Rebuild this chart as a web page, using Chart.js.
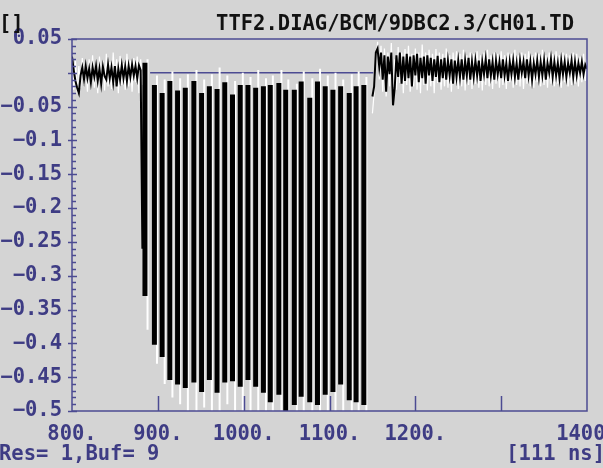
<!DOCTYPE html>
<html>
<head>
<meta charset="utf-8">
<title>TTF2.DIAG/BCM/9DBC2.3/CH01.TD</title>
<script src="https://cdn.jsdelivr.net/npm/chart.js@4.4.1/dist/chart.umd.min.js"></script>
<style>
  html, body { margin: 0; padding: 0; background: #d4d4d4; }
  canvas { display: block; }
</style>
</head>
<body>
<canvas id="bcm" width="603" height="468"></canvas>
<script>
// baseline traces are sampled every 2 ns
const sampleStep = 2;

// before the bunch train (800 .. 884 ns)
const preStart = 800;
const blackPre = [
    0.024, 0.004, -0.012, -0.022, -0.030, -0.004, 0.008, -0.010, 0.010, -0.008,
    0.006, -0.014, 0.008, -0.006, 0.010, -0.012, 0.006, -0.016, 0.009, -0.005,
    -0.010, 0.012, -0.008, 0.008, -0.014, 0.010, -0.020, 0.006, -0.010, 0.011,
    -0.008, 0.009, -0.012, 0.010, -0.006, 0.012, -0.004, 0.010, -0.008, 0.011,
    0.004, -0.260, 0.014
];
const whitePre = [
    0.012, -0.025, 0.018, -0.030, 0.010, -0.022, 0.022, -0.018, 0.015, -0.028,
    0.020, -0.015, 0.026, -0.022, 0.012, -0.030, 0.024, -0.012, 0.018, -0.026,
    0.028, -0.020, 0.016, -0.024, 0.030, -0.016, 0.020, -0.030, 0.025, -0.018,
    0.014, -0.025, 0.028, -0.020, 0.018, -0.028, 0.022, -0.014, 0.024, -0.030,
    0.020, -0.018, 0.010
];

// after the bunch train (1150 .. 1400 ns)
const postStart = 1150;
const blackPost = [
    -0.035, -0.020, 0.030, 0.036, 0.008, 0.030, -0.010, 0.026, -0.028, 0.024,
    -0.002, 0.030, -0.048, -0.022, 0.026, -0.006, 0.030, -0.016, 0.024, -0.012,
    0.028, -0.008, 0.024, -0.020, 0.026, -0.004, 0.028, -0.014, 0.022, -0.008,
    0.024, -0.016, 0.026, -0.004, 0.022, -0.012, 0.020, -0.006, 0.025, -0.014,
    0.020, -0.008, 0.022, -0.010, 0.018, -0.004, 0.020, -0.016, 0.018, -0.006,
    0.018, -0.006, 0.020, -0.010, 0.018, -0.004, 0.022, -0.010, 0.016, -0.006,
    0.018, -0.004, 0.018, -0.012, 0.016, -0.002, 0.020, -0.008, 0.020, -0.004,
    0.016, -0.010, 0.018, -0.002, 0.016, -0.008, 0.020, -0.004, 0.014, -0.012,
    0.016, -0.002, 0.018, -0.006, 0.014, -0.010, 0.018, 0.000, 0.016, -0.008,
    0.020, -0.004, 0.016, -0.010, 0.014, -0.002, 0.018, -0.006, 0.016, -0.004,
    0.018, -0.010, 0.014, 0.000, 0.020, -0.006, 0.016, -0.004, 0.014, -0.008,
    0.018, -0.002, 0.016, -0.006, 0.014, 0.000, 0.018, -0.006, 0.016, -0.004,
    0.014, 0.000, 0.016, -0.002, 0.012, 0.006
];
const whitePost = [
    -0.060, -0.030, 0.010, 0.046, -0.010, 0.040, -0.028, 0.036, -0.035, 0.030,
    -0.020, 0.044, -0.040, 0.020, -0.025, 0.038, -0.015, 0.030, -0.030, 0.035,
    -0.018, 0.040, -0.028, 0.028, -0.020, 0.036, -0.025, 0.030, -0.030, 0.042,
    -0.018, 0.030, -0.026, 0.034, -0.020, 0.028, -0.030, 0.035, -0.015, 0.030,
    -0.025, 0.028, -0.020, 0.036, -0.022, 0.026, -0.028, 0.030, -0.016, 0.032,
    -0.024, 0.028, -0.020, 0.034, -0.026, 0.026, -0.018, 0.030, -0.024, 0.028,
    -0.016, 0.032, -0.022, 0.026, -0.026, 0.030, -0.018, 0.034, -0.020, 0.026,
    -0.024, 0.030, -0.016, 0.028, -0.022, 0.032, -0.018, 0.026, -0.024, 0.030,
    -0.014, 0.028, -0.022, 0.034, -0.018, 0.026, -0.020, 0.030, -0.024, 0.028,
    -0.016, 0.032, -0.020, 0.026, -0.022, 0.030, -0.014, 0.028, -0.020, 0.034,
    -0.018, 0.026, -0.022, 0.030, -0.016, 0.028, -0.020, 0.032, -0.016, 0.026,
    -0.022, 0.030, -0.014, 0.028, -0.020, 0.026, -0.018, 0.030, -0.016, 0.028,
    -0.020, 0.024, -0.014, 0.028, -0.012, 0.020
];

// one entry per bunch: arrival time [ns], trace top and bottom [V]
const pulseTimes = [
    885, 896, 905, 914, 923, 932, 942, 951, 960, 969,
    978, 987, 996, 1005, 1014, 1023, 1031, 1041, 1049, 1059,
    1067, 1077, 1086, 1095, 1104, 1113, 1123, 1131, 1140
];
const blackTop = [
    0.015, -0.018, -0.030, -0.012, -0.026, -0.022, -0.012, -0.030, -0.020, -0.024,
    -0.014, -0.032, -0.018, -0.018, -0.022, -0.020, -0.018, -0.015, -0.025, -0.025,
    -0.013, -0.037, -0.013, -0.020, -0.025, -0.020, -0.030, -0.020, -0.018
];
const blackBottom = [
    -0.330, -0.402, -0.420, -0.454, -0.461, -0.466, -0.458, -0.472, -0.454, -0.473,
    -0.458, -0.456, -0.464, -0.454, -0.464, -0.473, -0.487, -0.476, -0.500, -0.491,
    -0.479, -0.487, -0.491, -0.476, -0.472, -0.461, -0.484, -0.487, -0.491
];
const whitePulseTimes = [
    888, 899, 908, 917, 926, 935, 945, 954, 963, 972,
    981, 990, 999, 1008, 1017, 1026, 1034, 1044, 1052, 1062,
    1070, 1080, 1089, 1098, 1107, 1116, 1126, 1134, 1143
];
const whiteTop = [
    0.020, -0.004, -0.010, 0.002, -0.008, -0.002, 0.004, -0.010, -0.002, 0.008,
    -0.004, -0.012, 0.000, -0.006, 0.004, -0.008, -0.004, 0.004, -0.010, -0.016,
    0.002, -0.008, 0.006, -0.004, 0.000, -0.010, -0.002, 0.002, -0.006
];
const whiteBottom = [
    -0.380, -0.430, -0.460, -0.480, -0.490, -0.500, -0.500, -0.495, -0.500, -0.500,
    -0.490, -0.500, -0.500, -0.500, -0.500, -0.500, -0.500, -0.500, -0.500, -0.500,
    -0.500, -0.500, -0.500, -0.500, -0.500, -0.500, -0.500, -0.500, -0.500
];

// reference level marker
const levelTimes = [891, 1151];
const levelValues = [0.0, 0.0];

const xTickValues = [800, 900, 1000, 1100, 1200, 1300, 1400];
const xTickText = ['800.', '900.', '1000.', '1100.', '1200.', '', '1400 '];

const titleText = 'TTF2.DIAG/BCM/9DBC2.3/CH01.TD';
const unitText = '[]';
const statusText = 'Res= 1,Buf= 9';
const scaleText = '[111 ns]';

const frameColor = '#4c4b92';
const labelColor = '#3e3c84';
const fontFamily = "'DejaVu Sans Mono', monospace";

Chart.defaults.font.family = fontFamily;
Chart.defaults.font.size = 20.5;
Chart.defaults.font.weight = 'bold';

const toPoints = (start, vals) => vals.map((v, i) => ({ x: start + i * sampleStep, y: v }));

function formatY(value) {
    if (Math.abs(value) < 1e-9) return '';
    return value.toFixed(2).replace(/0$/, '').replace('-', '\u2212');
}

// frame, inward x ticks, crossing y ticks and the header/footer texts
const scopeFrame = {
    id: 'scopeFrame',
    afterDatasetsDraw(chart) {
        const { ctx, chartArea: a, scales: { x, y } } = chart;
        ctx.save();
        ctx.strokeStyle = frameColor;
        ctx.lineWidth = 1.5;
        ctx.strokeRect(a.left, a.top, a.right - a.left, a.bottom - a.top);

        ctx.beginPath();
        for (let i = 0; i <= 55; i++) {
            const py = Math.round(y.getPixelForValue(-0.5 + i * 0.01)) + 0.5;
            const major = i % 5 === 0;
            ctx.moveTo(a.left - (major ? 4 : 0), py);
            ctx.lineTo(a.left + (major ? 5 : 4), py);
        }
        x.ticks.forEach(t => {
            if (t.value <= x.min || t.value >= x.max) return;
            const px = Math.round(x.getPixelForValue(t.value)) + 0.5;
            ctx.moveTo(px, a.bottom);
            ctx.lineTo(px, a.bottom - 15);
        });
        ctx.stroke();
        ctx.restore();
    },
    afterDraw(chart) {
        const ctx = chart.ctx;
        ctx.save();
        ctx.font = 'bold 20.5px ' + fontFamily;
        ctx.textBaseline = 'alphabetic';

        ctx.fillStyle = '#111111';
        ctx.textAlign = 'left';
        ctx.fillText(unitText, -1, 30);
        ctx.textAlign = 'right';
        ctx.fillText(titleText, 574, 30);

        ctx.fillStyle = labelColor;
        ctx.textAlign = 'left';
        ctx.fillText(statusText, -1, 460);
        ctx.textAlign = 'right';
        ctx.fillText(scaleText, 605, 460);
        ctx.restore();
    }
};

const ctx = document.getElementById('bcm').getContext('2d');

new Chart(ctx, {
    type: 'line',
    data: {
        datasets: [
            {
                label: 'level',
                data: levelTimes.map((t, i) => ({ x: t, y: levelValues[i] })),
                borderColor: frameColor,
                borderWidth: 1.5,
                pointRadius: 0,
                order: 3
            },
            {
                type: 'bar',
                label: 'white pulses',
                data: whitePulseTimes.map((t, i) => ({ x: t, y: [whiteBottom[i], whiteTop[i]] })),
                backgroundColor: '#ffffff',
                borderWidth: 0,
                inflateAmount: 0,
                barThickness: 2,
                maxBarThickness: 2,
                grouped: false,
                order: 2
            },
            {
                label: 'white pre',
                data: toPoints(preStart, whitePre),
                borderColor: '#ffffff',
                borderWidth: 1.2,
                pointRadius: 0,
                order: 2
            },
            {
                label: 'white post',
                data: toPoints(postStart, whitePost),
                borderColor: '#ffffff',
                borderWidth: 1.2,
                pointRadius: 0,
                order: 2
            },
            {
                type: 'bar',
                label: 'black pulses',
                data: pulseTimes.map((t, i) => ({ x: t, y: [blackBottom[i], blackTop[i]] })),
                backgroundColor: '#000000',
                borderWidth: 0,
                inflateAmount: 0,
                barThickness: 5,
                maxBarThickness: 5,
                grouped: false,
                order: 0
            },
            {
                label: 'black pre',
                data: toPoints(preStart, blackPre),
                borderColor: '#000000',
                borderWidth: 2,
                pointRadius: 0,
                order: 0
            },
            {
                label: 'black post',
                data: toPoints(postStart, blackPost),
                borderColor: '#000000',
                borderWidth: 2,
                pointRadius: 0,
                order: 0
            }
        ]
    },
    options: {
        responsive: false,
        animation: false,
        devicePixelRatio: 1,
        layout: { padding: { top: 39, right: 16, bottom: 0, left: 0 } },
        plugins: {
            legend: { display: false },
            tooltip: { enabled: false }
        },
        scales: {
            x: {
                type: 'linear',
                min: 800,
                max: 1400,
                offset: false,
                grid: { display: false, drawTicks: false },
                border: { display: false },
                afterFit(scale) {
                    scale.height = 57;
                    scale.paddingLeft = 0;
                    scale.paddingRight = 0;
                },
                ticks: {
                    stepSize: 100,
                    autoSkip: false,
                    maxRotation: 0,
                    padding: 11,
                    color: labelColor,
                    callback: v => {
                        const k = xTickValues.indexOf(v);
                        return k >= 0 ? xTickText[k] : '';
                    }
                }
            },
            y: {
                type: 'linear',
                min: -0.5,
                max: 0.05,
                grid: { display: false, drawTicks: false },
                border: { display: false },
                afterFit(scale) {
                    scale.width = 72;
                },
                ticks: {
                    stepSize: 0.05,
                    autoSkip: false,
                    padding: 10,
                    color: labelColor,
                    callback: formatY
                }
            }
        }
    },
    plugins: [scopeFrame]
});
</script>
</body>
</html>
